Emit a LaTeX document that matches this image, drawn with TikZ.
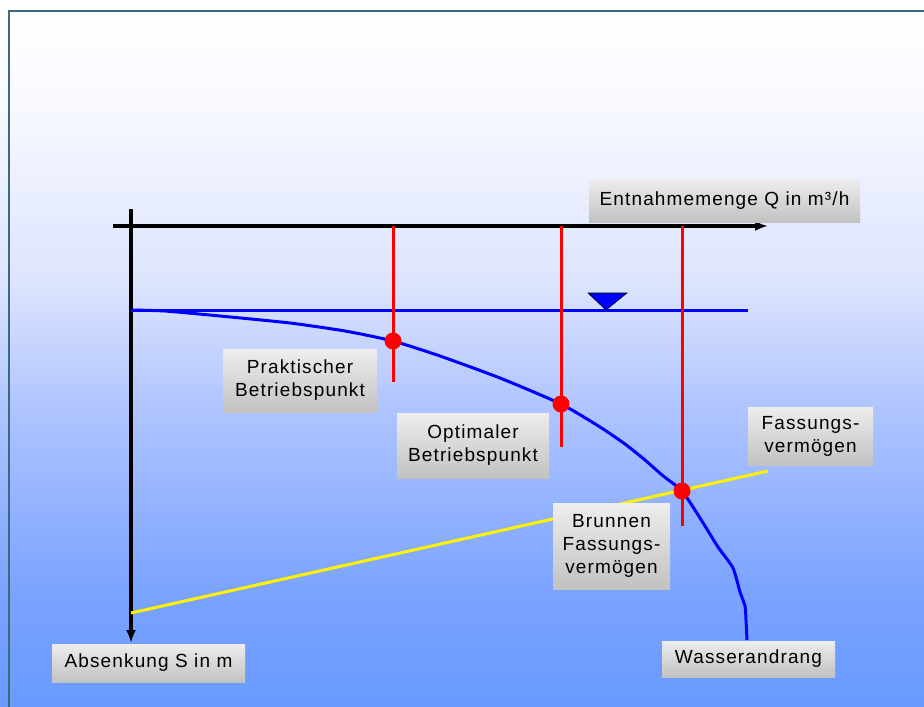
\documentclass[tikz,border=0pt]{standalone}
\usepackage{fontspec}
\setmainfont{Liberation Sans}
\newfontfamily\tagfont{Liberation Sans}[LetterSpace=6]
\usepackage{tikz}
\usetikzlibrary{arrows,arrows.meta}

\definecolor{frame}{RGB}{60,106,124}
\definecolor{skyD}{RGB}{104,154,255}
\definecolor{skyC}{RGB}{122,163,255}
\definecolor{skyB}{RGB}{175,196,255}
\definecolor{skyA}{RGB}{220,228,253}
\definecolor{skyT}{RGB}{249,250,255}
\pgfdeclareverticalshading{backdrop}{100bp}{color(0bp)=(skyD); color(25bp)=(skyD); color(33bp)=(skyC); color(46bp)=(skyB); color(55bp)=(skyA); color(68bp)=(skyT); color(75bp)=(white); color(100bp)=(white)}

\tikzset{
  tag/.style={top color=black!7, bottom color=black!24, inner sep=0pt, align=center,
    font=\tagfont\fontsize{19}{23}\selectfont},
  dot/.style={circle, fill=red, inner sep=0pt, minimum size=17pt},
  cut/.style={red, line width=3pt},
  level/.style={blue, line width=3pt},
  axis/.style={line width=3.5pt, -{Latex[length=13pt, width=10pt]}}
}

\begin{document}
\begin{tikzpicture}[x=1pt, y=-1pt]
    \useasboundingbox (0,0) rectangle (924,707);
    \shade [shading=backdrop] (0,0) rectangle (924,707);
    \draw [frame, line width=2.5pt] (9,707) -- (9,11) -- (924,11);

    % axes
    \coordinate (sTop) at (131,209);
    \coordinate (sEnd) at (131,643);
    \coordinate (qStart) at (113,226);
    \coordinate (qEnd) at (768,226);
    \draw [axis] (sTop) -- (sEnd);
    \draw [axis] (qStart) -- (qEnd);

    % Ruhewasserspiegel
    \coordinate (wL) at (131,310);
    \coordinate (wR) at (748,310);
    \draw [level] (wL) -- (wR);
    \filldraw [fill=blue, draw=black, line width=0.6pt] (588,293) -- (627,293) -- (606,310) -- cycle;

    % Fassungsvermoegen
    \coordinate (fL) at (131,613);
    \coordinate (fR) at (768,471);
    \draw [yellow, line width=3pt] (fL) -- (fR);

    % Wasserandrang
    \draw [level] plot [smooth, tension=0.35] coordinates {(131,310) (165,311) (220,316) (290,323) (345,331) (393,341) (440,356) (500,378) (561,404) (600,427) (625,444) (645,460) (662,475) (682,491) (700,518) (718,547) (733,568) (740,592) (745,606) (746,620) (747,640)};

    % Betriebspunkte
    \coordinate (top1) at (393,226);
    \coordinate (end1) at (393,382);
    \coordinate (top2) at (561,226);
    \coordinate (end2) at (561,447);
    \coordinate (top3) at (682,226);
    \coordinate (end3) at (682,526);
    \draw [cut] (top1) -- (end1);
    \draw [cut] (top2) -- (end2);
    \draw [cut] (top3) -- (end3);
    \node [dot] (p1) at (393,341) {};
    \node [dot] (p2) at (561,404) {};
    \node [dot] (p3) at (682,491) {};

    \node [tag, minimum width=271pt, minimum height=43pt] (qlabel) at (724.5,200.5) {Entnahmemenge Q in m³/h};
    \node [tag, minimum width=193pt, minimum height=38pt] (slabel) at (148.5,663) {Absenkung S in m};
    \node [tag, minimum width=154pt, minimum height=63pt] (prak) at (300,380.5) {Praktischer\\Betriebspunkt};
    \node [tag, minimum width=152pt, minimum height=65pt] (opt) at (473,445.5) {Optimaler\\Betriebspunkt};
    \node [tag, minimum width=125pt, minimum height=58pt] (fass) at (810.5,436) {Fassungs-\\vermögen};
    \node [tag, minimum width=117pt, minimum height=86pt] (brunnen) at (611.5,546) {Brunnen\\Fassungs-\\vermögen};
    \node [tag, minimum width=173pt, minimum height=36pt] (zufluss) at (748.5,659) {Wasserandrang};
\end{tikzpicture}
\end{document}
